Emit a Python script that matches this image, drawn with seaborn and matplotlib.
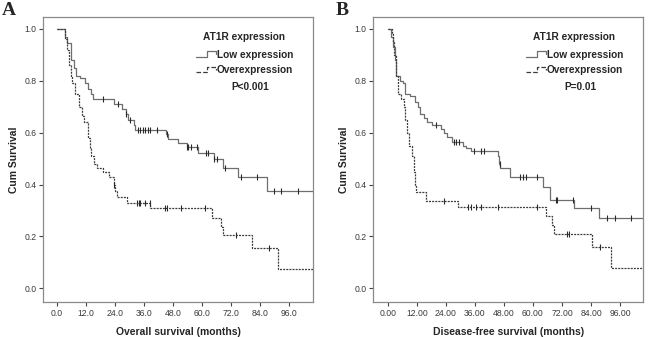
import numpy as np
import pandas as pd
import matplotlib
matplotlib.use("Agg")
import matplotlib.pyplot as plt
import seaborn as sns
from matplotlib.lines import Line2D
from matplotlib.legend_handler import HandlerBase

# ---- Panel A: overall survival (step times in months, survival after step) ----
os_low_t = [0, 3.3, 4.3, 6.0, 7.0, 8.0, 9.8, 11.7, 13.0, 14.0, 15.0, 23.6, 27.0, 28.5,
            29.5, 31.8, 32.5, 45.0, 46.0, 50.0, 53.8, 58.3, 65.0, 68.9, 75.0, 87.0]
os_low_s = [1.0, 0.97, 0.945, 0.88, 0.85, 0.82, 0.81, 0.79, 0.77, 0.75, 0.73, 0.71, 0.69, 0.67,
            0.65, 0.63, 0.61, 0.595, 0.575, 0.56, 0.545, 0.52, 0.50, 0.465, 0.43, 0.375]
os_low_cens = [19.2, 25.2, 28.8, 30.2, 33.6, 34.6, 35.7, 36.6, 37.7, 38.7, 41.4, 45.5, 53.9,
               54.4, 55.3, 57.9, 61.6, 62.7, 65.2, 66.1, 69.5, 76.1, 82.6, 89.8, 92.6, 99.5]

os_over_t = [0, 3.4, 4.1, 5.1, 5.8, 6.4, 7.5, 9.2, 10.6, 11.5, 12.8, 13.7, 14.4, 15.4, 16.5,
             19.1, 21.5, 23.6, 24.3, 25.0, 29.1, 38.7, 64.0, 67.9, 68.9, 80.5, 91.5]
os_over_s = [1.0, 0.96, 0.92, 0.86, 0.82, 0.79, 0.75, 0.70, 0.665, 0.64, 0.58, 0.54, 0.51, 0.48,
             0.465, 0.45, 0.43, 0.40, 0.375, 0.35, 0.33, 0.31, 0.27, 0.235, 0.205, 0.155, 0.075]
os_over_cens = [23.8, 33.2, 33.9, 34.6, 36.6, 38.4, 44.9, 45.5, 51.4, 61.3, 73.9, 87.7]

# ---- Panel B: disease-free survival ----
dfs_low_t = [0, 1.4, 2.1, 2.8, 3.5, 5.1, 6.1, 7.2, 9.3, 11.1, 12.5, 13.5, 14.9, 16.3, 18.1,
             21.8, 23.2, 24.6, 26.4, 30.9, 32.3, 34.4, 45.5, 45.9, 46.5, 50.4, 64.0, 67.1, 76.8, 87.2]
dfs_low_s = [1.0, 0.97, 0.93, 0.88, 0.82, 0.80, 0.79, 0.75, 0.74, 0.72, 0.70, 0.67, 0.655, 0.64, 0.63,
             0.615, 0.60, 0.585, 0.565, 0.55, 0.54, 0.53, 0.51, 0.48, 0.465, 0.43, 0.39, 0.34, 0.31, 0.27]
dfs_low_cens = [19.8, 27.4, 28.1, 29.5, 35.8, 38.5, 39.9, 46.2, 54.8, 55.9, 57.0, 61.5,
                69.6, 69.9, 76.5, 83.8, 90.4, 93.8, 100.5]

dfs_over_t = [0, 1.7, 2.1, 2.6, 3.4, 4.2, 5.6, 6.5, 7.2, 7.9, 8.9, 10.0, 10.7, 11.1, 11.7,
              15.6, 29.2, 65.4, 67.7, 68.5, 84.5, 92.4]
dfs_over_s = [1.0, 0.98, 0.95, 0.90, 0.82, 0.75, 0.73, 0.70, 0.65, 0.60, 0.55, 0.51, 0.45, 0.40, 0.37,
              0.335, 0.315, 0.28, 0.245, 0.21, 0.16, 0.08]
dfs_over_cens = [23.2, 33.0, 34.4, 36.5, 38.5, 45.5, 61.5, 74.0, 74.7, 87.9]

groups = ["Low expression", "Overexpression"]
x_ticks = [0, 12, 24, 36, 48, 60, 72, 84, 96]
y_ticks = [0.0, 0.2, 0.4, 0.6, 0.8, 1.0]


class StepHandler(HandlerBase):
    # SPSS style step icon in the legend
    def create_artists(self, legend, orig_handle, xdescent, ydescent, width, height, fontsize, trans):
        x0 = -xdescent
        y0 = -ydescent
        xs = [x0, x0 + 0.55 * width, x0 + 0.55 * width, x0 + width, x0 + width]
        ys = [y0 + 0.15 * height, y0 + 0.15 * height, y0 + 0.95 * height, y0 + 0.95 * height, y0 + 0.5 * height]
        ln = Line2D(xs, ys, color=orig_handle.get_color(), linestyle=orig_handle.get_linestyle(),
                    linewidth=orig_handle.get_linewidth(), transform=trans)
        return [ln]


sns.set_style("white")
plt.rcParams["font.family"] = ["Liberation Sans", "DejaVu Sans"]

fig = plt.figure(figsize=(6.5, 3.37), dpi=100)
ax_a = fig.add_axes([0.0666, 0.103, 0.4154, 0.8475])
ax_b = fig.add_axes([0.5743, 0.103, 0.4154, 0.8475])

low_col = "#6e6e6e"
over_col = "#3c3c3c"
over_ls = (0, (1.6, 0.9))


def km_panel(ax, low_t, low_s, low_c, over_t, over_s, over_c, xmax, xlim, tick_fmt, xlabel, ptext):
    for t, s, c, col, ls in [(low_t, low_s, low_c, low_col, "-"),
                             (over_t, over_s, over_c, over_col, over_ls)]:
        df = pd.DataFrame({"time": t + [xmax], "surv": s + [s[-1]]})
        sns.lineplot(data=df, x="time", y="surv", ax=ax, drawstyle="steps-post", estimator=None,
                     color=col, linewidth=0.9, linestyle=ls)
        idx = np.searchsorted(t, c, side="right") - 1
        cs = pd.DataFrame({"time": c, "surv": np.array(s)[idx]})
        ax.plot(cs["time"], cs["surv"], linestyle="none", marker="|", markersize=5,
                markeredgewidth=0.8, color="#2a2a2a")
    ax.set_xlim(*xlim)
    ax.set_ylim(-0.054, 1.047)
    ax.set_xticks(x_ticks)
    ax.set_xticklabels([tick_fmt.format(v) for v in x_ticks], fontsize=6.2, color="#3a3a3a")
    ax.set_yticks(y_ticks)
    ax.set_yticklabels(["{:.1f}".format(v) for v in y_ticks], fontsize=6.2, color="#3a3a3a")
    ax.tick_params(axis="both", direction="out", length=3, width=0.8, color="#444444", pad=2, bottom=True, left=True)
    for sp in ax.spines.values():
        sp.set_color("#8a8a8a")
        sp.set_linewidth(0.9)
    ax.set_xlabel(xlabel, fontsize=7.5, fontweight="bold", labelpad=6)
    ax.set_ylabel("Cum Survival", fontsize=7.5, fontweight="bold", labelpad=4)
    handles = [Line2D([], [], color=low_col, linewidth=0.9, linestyle="-"),
               Line2D([], [], color=over_col, linewidth=0.9, linestyle=over_ls)]
    leg = ax.legend(handles, groups, title="AT1R expression", loc="upper center",
                    bbox_to_anchor=(0.745, 0.98), frameon=False, fontsize=7.3,
                    title_fontproperties={"weight": "bold", "size": 7.3},
                    handler_map={Line2D: StepHandler()}, handlelength=2.0, handletextpad=0.1,
                    labelspacing=0.55)
    for txt in leg.get_texts():
        txt.set_fontweight("bold")
    leg._legend_box.sep = 6
    ax.text(0.766, 0.755, ptext, transform=ax.transAxes, ha="center", va="center",
            fontsize=7.3, fontweight="bold")


km_panel(ax_a, os_low_t, os_low_s, os_low_cens, os_over_t, os_over_s, os_over_cens,
         106, (-5.5, 106), "{:.1f}", "Overall survival (months)", "P<0.001")
km_panel(ax_b, dfs_low_t, dfs_low_s, dfs_low_cens, dfs_over_t, dfs_over_s, dfs_over_cens,
         105.6, (-6, 105.6), "{:.2f}", "Disease-free survival (months)", "P=0.01")

fig.text(0.003, 0.995, "A", fontsize=14, fontweight="bold", family=["Liberation Serif", "DejaVu Serif"],
         ha="left", va="top")
fig.text(0.517, 0.995, "B", fontsize=14, fontweight="bold", family=["Liberation Serif", "DejaVu Serif"],
         ha="left", va="top")

fig.savefig("out.png", dpi=100)
